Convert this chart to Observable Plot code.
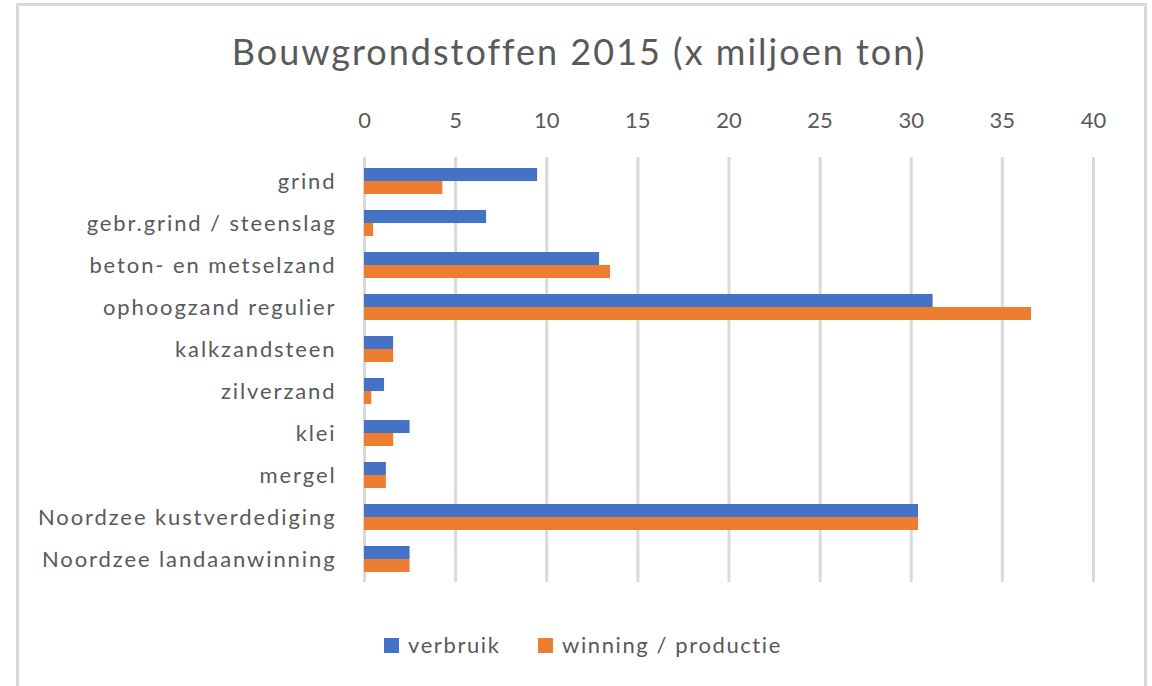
<!DOCTYPE html>
<html>
<head>
<meta charset="utf-8">
<script src="https://cdn.jsdelivr.net/npm/d3@7"></script>
<script src="https://cdn.jsdelivr.net/npm/@observablehq/plot@0.6"></script>
<style>
  html, body { margin: 0; padding: 0; background: #fff; overflow: hidden; }
  body { width: 1152px; height: 686px; position: relative; font-family: Lato, "Open Sans", sans-serif; color: #595959; }
  #frame { position: absolute; left: 16px; top: 3px; width: 1131px; height: 720px; box-sizing: border-box; border: 3px solid #d9d9d9; }
  #title { position: absolute; left: 0; top: 29px; width: 1158px; text-align: center; font-size: 36px; line-height: 44px; letter-spacing: 2px; color: #595959; }
  #chart { position: absolute; left: 0; top: 0; }
  #chart svg g[aria-label="y-axis tick label"] text { letter-spacing: 1.9px; }
  .item { position: absolute; top: 630px; display: flex; align-items: center; font-size: 22px; line-height: 30px; letter-spacing: 1.6px; color: #595959; white-space: nowrap; }
  .sw { width: 15px; height: 15px; margin-right: 9px; }
</style>
</head>
<body>
<div id="frame"></div>
<div id="chart"></div>
<div id="title">Bouwgrondstoffen 2015 (x miljoen ton)</div>
<div id="legend"></div>
<script>
const categories = [
  "grind",
  "gebr.grind / steenslag",
  "beton- en metselzand",
  "ophoogzand regulier",
  "kalkzandsteen",
  "zilverzand",
  "klei",
  "mergel",
  "Noordzee kustverdediging",
  "Noordzee landaanwinning"
];
const verbruik = [9.5, 6.7, 12.9, 31.2, 1.6, 1.1, 2.5, 1.2, 30.4, 2.5];
const winning  = [4.3, 0.5, 13.5, 36.6, 1.6, 0.4, 1.6, 1.2, 30.4, 2.5];
const seriesNames = ["verbruik", "winning / productie"];
const seriesColors = ["#4472C4", "#ED7D31"];
const xTicks = [0, 5, 10, 15, 20, 25, 30, 35, 40];

const data = categories.map((c, i) => ({category: c, verbruik: verbruik[i], winning: winning[i]}));

const W = 1152, H = 600, mTop = 157, mBottom = 18;
const pInner = 0.39, pOuter = 0.195;
const step = (H - mTop - mBottom) / (categories.length - pInner + 2 * pOuter);
const half = step * (1 - pInner) / 2;

const chart = Plot.plot({
  width: W,
  height: H,
  marginLeft: 364,
  marginRight: 59,
  marginTop: mTop,
  marginBottom: mBottom,
  style: {background: "transparent", fontFamily: "Lato, 'Open Sans', sans-serif", fontSize: "22px", color: "#595959"},
  x: {domain: [0, 40], ticks: xTicks, axis: "top", tickSize: 0, tickPadding: 30, label: null},
  y: {domain: categories, paddingInner: pInner, paddingOuter: pOuter, tickSize: 0, tickPadding: 28, label: null},
  marks: [
    Plot.gridX(xTicks, {stroke: "#d9d9d9", strokeWidth: 3, strokeOpacity: 1}),
    Plot.barX(data, {y: "category", x: "verbruik", fill: seriesColors[0], insetBottom: half}),
    Plot.barX(data, {y: "category", x: "winning", fill: seriesColors[1], insetTop: half})
  ]
});
document.getElementById("chart").appendChild(chart);
// widen category labels (Excel-like spacing)
chart.querySelectorAll("text").forEach(t => {
  if (categories.includes(t.textContent)) t.style.letterSpacing = "1.9px";
});

const legend = document.getElementById("legend");
const legendLeft = [384, 538];
seriesNames.forEach((name, i) => {
  const item = document.createElement("div");
  item.className = "item";
  item.style.left = legendLeft[i] + "px";
  const sw = document.createElement("div");
  sw.className = "sw";
  sw.style.background = seriesColors[i];
  const t = document.createElement("span");
  t.textContent = name;
  item.appendChild(sw);
  item.appendChild(t);
  legend.appendChild(item);
});
</script>
</body>
</html>
